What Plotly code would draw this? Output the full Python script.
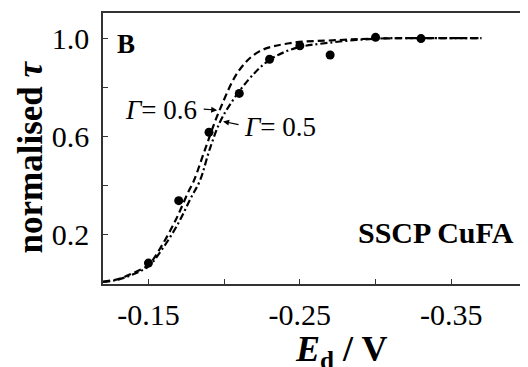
import plotly.graph_objects as go

# measured points
exp_x = [-0.15, -0.17, -0.19, -0.21, -0.23, -0.25, -0.27, -0.30, -0.33]
exp_y = [0.085, 0.339, 0.617, 0.775, 0.914, 0.969, 0.931, 1.003, 0.998]

# fitted curve, Gamma = 0.6 (dashed)
g06_x = [-0.120, -0.130, -0.140, -0.150, -0.159, -0.168, -0.176, -0.180, -0.188, -0.197, -0.210, -0.223, -0.243, -0.276, -0.300, -0.330, -0.370]
g06_y = [0.010, 0.020, 0.045, 0.078, 0.158, 0.260, 0.370, 0.420, 0.558, 0.707, 0.870, 0.945, 0.979, 0.992, 0.998, 1.000, 1.000]

# fitted curve, Gamma = 0.5 (dash-dot)
g05_x = [-0.120, -0.130, -0.140, -0.150, -0.160, -0.170, -0.178, -0.184, -0.191, -0.199, -0.216, -0.230, -0.247, -0.269, -0.302, -0.330, -0.370]
g05_y = [0.008, 0.018, 0.040, 0.072, 0.150, 0.250, 0.350, 0.420, 0.558, 0.680, 0.830, 0.911, 0.959, 0.981, 0.998, 1.000, 1.000]

x_tickvals = [-0.15, -0.20, -0.25, -0.30, -0.35]
x_ticktext = ["-0.15", "", "-0.25", "", "-0.35"]
y_tickvals = [0.2, 0.4, 0.6, 0.8, 1.0]
y_ticktext = ["0.2", "", "0.6", "", "1.0"]

FONT = "Liberation Serif, Times New Roman, Tinos, DejaVu Serif, serif"

fig = go.Figure()
fig.add_trace(go.Scatter(x=g06_x, y=g06_y, mode="lines", line=dict(color="black", width=2.2, dash="7px,4px", shape="spline"), hoverinfo="skip"))
fig.add_trace(go.Scatter(x=g05_x, y=g05_y, mode="lines", line=dict(color="black", width=2.2, dash="7px,3px,2px,3px", shape="spline"), hoverinfo="skip"))
fig.add_trace(go.Scatter(x=exp_x, y=exp_y, mode="markers", marker=dict(color="black", size=9)))

axis_common = dict(showline=True, linecolor="#333", linewidth=1.5, mirror=True, ticks="inside", ticklen=5,
                   tickcolor="#333", tickwidth=1.2, showgrid=False, zeroline=False, automargin=False,
                   tickfont=dict(family=FONT, size=30, color="black"))

fig.update_xaxes(range=[-0.12, -0.40], tickvals=x_tickvals, ticktext=x_ticktext, ticklabelstandoff=3, **axis_common)
fig.update_yaxes(range=[0, 1.102], tickvals=y_tickvals, ticktext=y_ticktext, ticklabelstandoff=6, **axis_common)

ann = []
ann.append(dict(xref="paper", yref="paper", x=(341 - 103) / 424, y=(283.5 - 326) / 270.5, xanchor="center", yanchor="top",
                text="<b><i>E</i><sub>d</sub> / V</b>", showarrow=False, font=dict(family=FONT, size=36, color="black")))
ann.append(dict(xref="paper", yref="paper", x=(30 - 103) / 424, y=0.467, xanchor="center", yanchor="middle", textangle=-90,
                text="<b>normalised <i>τ</i></b>", showarrow=False, font=dict(family=FONT, size=35, color="black")))
ann.append(dict(xref="x", yref="y", x=-0.1276, y=0.975, xanchor="left", yanchor="middle",
                text="<b>B</b>", showarrow=False, font=dict(family=FONT, size=27, color="black")))
ann.append(dict(xref="x", yref="y", x=-0.2868, y=0.209, xanchor="left", yanchor="middle",
                text="<b>SSCP CuFA</b>", showarrow=False, font=dict(family=FONT, size=30, color="black")))
ann.append(dict(xref="x", yref="y", x=-0.1836, y=0.708, xanchor="right", yanchor="middle",
                text="<i>Γ</i>= 0.6", showarrow=False, font=dict(family=FONT, size=27, color="black")))
ann.append(dict(xref="x", yref="y", x=-0.2118, y=0.638, xanchor="left", yanchor="middle",
                text="<i>Γ</i>= 0.5", showarrow=False, font=dict(family=FONT, size=27, color="black")))
ann.append(dict(xref="x", yref="y", x=-0.1954, y=0.707, ax=-0.1855, ay=0.7116, axref="x", ayref="y",
                text="", showarrow=True, arrowhead=2, arrowsize=1, arrowwidth=1.2, arrowcolor="black"))
ann.append(dict(xref="x", yref="y", x=-0.1993, y=0.661, ax=-0.2105, ay=0.647, axref="x", ayref="y",
                text="", showarrow=True, arrowhead=2, arrowsize=1, arrowwidth=1.2, arrowcolor="black"))

# page body has an 8px default margin; offset the plot area so it lands where the reference has it
fig.update_layout(width=528, height=367, margin=dict(l=95, r=9, t=5, b=91, autoexpand=False),
                  paper_bgcolor="white", plot_bgcolor="white", showlegend=False, annotations=ann)

fig.write_html("out.html")
